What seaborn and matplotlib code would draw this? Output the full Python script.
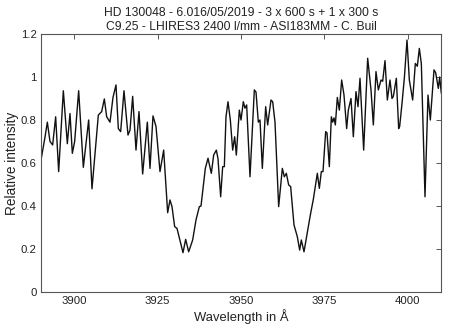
import matplotlib
matplotlib.use("Agg")
import matplotlib.pyplot as plt
import seaborn as sns
import pandas as pd

# Spectrum of HD 130048 around the Ca II H & K lines
wavelength = [
    3890.0, 3891.2, 3891.9, 3892.7, 3893.5, 3894.4, 3895.3, 3896.7, 3897.9, 3898.7,
    3899.4, 3900.1, 3901.3, 3902.7, 3904.3, 3905.3, 3907.2, 3908.2, 3909.0, 3909.7,
    3910.7, 3911.6, 3912.5, 3913.2, 3913.9, 3914.9, 3916.1, 3916.7, 3917.5, 3918.5,
    3919.4, 3920.5, 3921.9, 3922.7, 3923.6, 3924.5, 3925.7, 3926.8, 3928.0, 3928.7,
    3929.3, 3930.1, 3930.8, 3931.8, 3932.6, 3933.4, 3934.3, 3935.5, 3936.5, 3937.5,
    3938.0, 3939.3, 3940.1, 3941.1, 3941.8, 3942.6, 3943.1, 3943.9, 3944.5, 3945.0,
    3945.5, 3946.1, 3946.8, 3947.5, 3948.1, 3948.6, 3949.5, 3950.0, 3950.7, 3951.2,
    3951.7, 3952.7, 3954.0, 3954.5, 3955.2, 3955.7, 3956.4, 3957.4, 3958.0, 3959.0,
    3959.5, 3960.2, 3961.3, 3962.4, 3963.0, 3963.6, 3964.3, 3964.9, 3965.9, 3966.9,
    3967.6, 3968.1, 3968.9, 3970.8, 3971.7, 3972.9, 3973.5, 3974.1, 3974.6, 3975.4,
    3975.8, 3976.5, 3977.1, 3977.5, 3977.9, 3978.3, 3978.9, 3979.5, 3980.2, 3980.9,
    3981.7, 3982.2, 3983.0, 3983.7, 3984.5, 3985.1, 3985.7, 3986.8, 3988.0, 3989.0,
    3989.7, 3990.5, 3991.2, 3992.0, 3992.5, 3993.2, 3993.9, 3994.7, 3995.3, 3995.7,
    3996.6, 3997.3, 3997.6, 3998.3, 3999.0, 3999.8, 4000.5, 4001.5, 4002.3, 4002.9,
    4003.5, 4004.1, 4005.2, 4006.1, 4006.8, 4007.9, 4008.4, 4009.2, 4009.6, 4010.1,
]
intensity = [
    0.614, 0.720, 0.790, 0.700, 0.684, 0.815, 0.560, 0.936, 0.690, 0.830,
    0.645, 0.700, 0.936, 0.580, 0.800, 0.480, 0.823, 0.839, 0.898, 0.815,
    0.790, 0.905, 0.963, 0.760, 0.746, 0.936, 0.730, 0.753, 0.910, 0.660,
    0.839, 0.549, 0.790, 0.575, 0.819, 0.770, 0.560, 0.660, 0.369, 0.428,
    0.397, 0.304, 0.296, 0.234, 0.183, 0.245, 0.187, 0.242, 0.335, 0.397,
    0.400, 0.575, 0.622, 0.552, 0.637, 0.660, 0.620, 0.443, 0.583, 0.583,
    0.815, 0.885, 0.800, 0.660, 0.722, 0.637, 0.846, 0.800, 0.885, 0.855,
    0.870, 0.536, 0.940, 0.930, 0.790, 0.800, 0.575, 0.862, 0.777, 0.893,
    0.885, 0.790, 0.397, 0.575, 0.536, 0.552, 0.498, 0.490, 0.312, 0.257,
    0.195, 0.242, 0.187, 0.358, 0.431, 0.552, 0.482, 0.560, 0.560, 0.746,
    0.740, 0.583, 0.815, 0.790, 0.810, 0.777, 0.905, 0.846, 0.986, 0.916,
    0.760, 0.846, 0.900, 0.722, 0.932, 0.862, 0.994, 0.660, 1.087, 0.940,
    0.777, 1.025, 0.940, 0.986, 0.980, 1.076, 0.893, 0.986, 0.900, 0.910,
    0.994, 0.760, 0.770, 0.877, 0.994, 1.172, 0.986, 0.893, 1.063, 1.050,
    1.133, 1.063, 0.443, 0.916, 0.800, 1.033, 1.020, 0.947, 1.000, 0.924,
]

x_ticks = [3900, 3925, 3950, 3975, 4000]
y_ticks = [0, 0.2, 0.4, 0.6, 0.8, 1.0, 1.2]
y_labels = ["0", "0.2", "0.4", "0.6", "0.8", "1", "1.2"]

title = ("HD 130048 - 6.016/05/2019 - 3 x 600 s + 1 x 300 s\n"
         "C9.25 - LHIRES3 2400 l/mm - ASI183MM - C. Buil")

sns.set_theme(style="white")
plt.rcParams["font.family"] = ["Liberation Sans", "DejaVu Sans"]

df = pd.DataFrame({"wavelength": wavelength, "intensity": intensity})

fig = plt.figure(figsize=(4.5, 3.33), dpi=100)
ax = fig.add_axes([0.0911, 0.1231, 0.8889, 0.7748])

sns.lineplot(data=df, x="wavelength", y="intensity", ax=ax,
             color="#111111", linewidth=1.0, solid_joinstyle="round")

ax.set_xlim(3890, 4010)
ax.set_ylim(0, 1.2)
ax.set_xticks(x_ticks)
ax.set_xticklabels([str(t) for t in x_ticks])
ax.set_yticks(y_ticks)
ax.set_yticklabels(y_labels)

for side in ["left", "right", "top", "bottom"]:
    ax.spines[side].set_visible(True)
    ax.spines[side].set_color("#555555")
    ax.spines[side].set_linewidth(0.8)

ax.tick_params(direction="in", length=3.5, width=0.7, color="#555555",
               top=True, right=True, labelsize=8.2, labelcolor="#222222", pad=3)

ax.set_xlabel("Wavelength in Å", fontsize=9.4, color="#222222", labelpad=2)
ax.set_ylabel("Relative intensity", fontsize=9.8, color="#222222", labelpad=1.5)
ax.set_title(title, fontsize=8.7, color="#222222", pad=3, linespacing=1.25)

fig.savefig("out.png", dpi=100)
